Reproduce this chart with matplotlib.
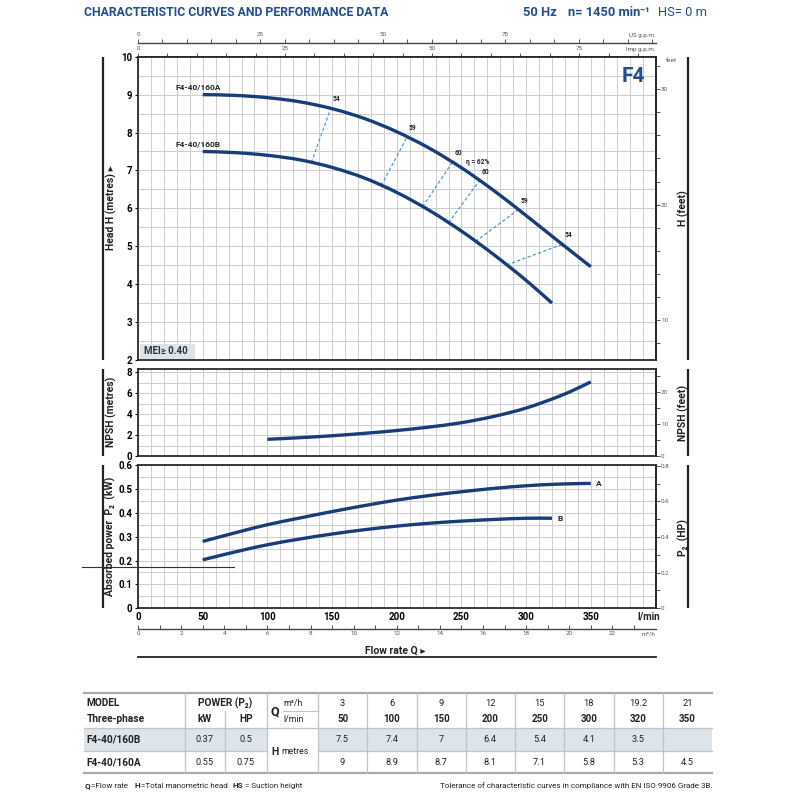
import numpy as np
import matplotlib
matplotlib.use('Agg')
import matplotlib.pyplot as plt
from matplotlib import font_manager
from matplotlib.patches import Rectangle, PathPatch
from matplotlib.path import Path
from matplotlib.ticker import MultipleLocator, FixedLocator

# ---------------- data ----------------
head_a_q = [50, 75, 100, 125, 150, 175, 200, 225, 250, 275, 300, 325, 350]
head_a_h = [9.00, 8.98, 8.92, 8.81, 8.63, 8.37, 8.02, 7.59, 7.07, 6.47, 5.81, 5.13, 4.46]
head_b_q = [50, 75, 100, 125, 150, 175, 200, 225, 250, 275, 300, 320]
head_b_h = [7.50, 7.47, 7.40, 7.28, 7.08, 6.80, 6.42, 5.95, 5.40, 4.78, 4.10, 3.50]

eff_labels = ['54', '59', '60', '60', '59', '54']
eff_q_on_a = [149, 208, 243, 264, 294, 328]
eff_q_on_b = [134, 188, 220, 240, 261, 285]
eta_max_q = 250
eta_max_label = '\u03b7 = 62%'

npsh_q = [100, 125, 150, 175, 200, 225, 250, 275, 300, 325, 340, 350]
npsh_h = [1.60, 1.75, 1.94, 2.17, 2.44, 2.77, 3.19, 3.79, 4.59, 5.69, 6.50, 7.10]

power_a_q = [50, 75, 100, 125, 150, 175, 200, 225, 250, 275, 300, 325, 350]
power_a_kw = [0.280, 0.316, 0.350, 0.378, 0.405, 0.430, 0.453, 0.472, 0.488, 0.502, 0.513, 0.520, 0.523]
power_b_q = [50, 75, 100, 125, 150, 175, 200, 225, 250, 275, 300, 320]
power_b_kw = [0.203, 0.236, 0.266, 0.290, 0.311, 0.329, 0.344, 0.356, 0.365, 0.372, 0.377, 0.377]

table_q_m3h = ['3', '6', '9', '12', '15', '18', '19.2', '21']
table_q_lmin = ['50', '100', '150', '200', '250', '300', '320', '350']
table_models = ['F4-40/160B', 'F4-40/160A']
table_kw = ['0.37', '0.55']
table_hp = ['0.5', '0.75']
table_h = [['7.5', '7.4', '7', '6.4', '5.4', '4.1', '3.5', ''],
           ['9', '8.9', '8.7', '8.1', '7.1', '5.8', '5.3', '4.5']]

# ---------------- fonts ----------------
avail = {f.name for f in font_manager.fontManager.ttflist}
def pick(*names):
    for n in names:
        if n in avail:
            return n
    return 'DejaVu Sans'
BASE = pick('Roboto', 'Lato', 'Open Sans', 'Liberation Sans')
NARROW = pick('Liberation Sans Narrow', 'Roboto', 'Lato')
FAM = [BASE, 'DejaVu Sans']
NFAM = [NARROW, 'DejaVu Sans']
plt.rcParams['font.family'] = FAM

NAVY = '#173d7a'
BLUE = '#1f4f8f'
DASH = '#3d8fd4'
GRID = '#cdcdcd'
FRAME = '#2a2a2a'
GRAY = '#555555'
SHADE = '#dde5ea'

W = H = 800
fig = plt.figure(figsize=(8, 8), dpi=100)

def rect(x0, y0, x1, y1):
    return [x0 / W, 1 - y1 / H, (x1 - x0) / W, (y1 - y0) / H]

def smooth_line(ax, xs, ys, **kw):
    """Draw a smooth curve passing through the given data points (Catmull-Rom as cubic Bezier)."""
    P = np.column_stack([xs, ys]).astype(float)
    n = len(P)
    verts = [P[0]]
    codes = [Path.MOVETO]
    for i in range(n - 1):
        p0 = P[i - 1] if i > 0 else P[i]
        p1 = P[i]
        p2 = P[i + 1]
        p3 = P[i + 2] if i + 2 < n else P[i + 1]
        verts += [p1 + (p2 - p0) / 6, p2 - (p3 - p1) / 6, p2]
        codes += [Path.CURVE4] * 3
    ax.add_patch(PathPatch(Path(verts, codes), fill=False, capstyle='butt', joinstyle='round', **kw))

X0, X1 = 138, 655.5
ax_h = fig.add_axes(rect(X0, 56.7, X1, 360))
ax_n = fig.add_axes(rect(X0, 369.3, X1, 456))
ax_p = fig.add_axes(rect(X0, 465, X1, 608.3))

for ax in (ax_h, ax_n, ax_p):
    ax.set_xlim(0, 400)
    ax.set_xticks(np.arange(0, 401, 10))
    ax.grid(True, which='both', color=GRID, lw=0.7)
    ax.set_axisbelow(True)
    for s in ax.spines.values():
        s.set_color(FRAME)
        s.set_linewidth(1.3)
    ax.tick_params(axis='x', length=0, labelbottom=False)
    ax.tick_params(axis='y', which='major', length=2, width=0.8, pad=2)
    ax.tick_params(axis='y', which='minor', length=0)

CURVE = dict(edgecolor=NAVY, lw=2.4, zorder=3)

# ---------- head ----------
ax_h.set_ylim(2, 10)
ax_h.set_yticks(range(2, 11), labels=[str(v) for v in range(2, 11)], fontweight='bold', fontsize=7)
ax_h.yaxis.set_minor_locator(MultipleLocator(0.5))
smooth_line(ax_h, head_a_q, head_a_h, **CURVE)
smooth_line(ax_h, head_b_q, head_b_h, **CURVE)
for lab, qa, qb in zip(eff_labels, eff_q_on_a, eff_q_on_b):
    ha_ = np.interp(qa, head_a_q, head_a_h)
    hb_ = np.interp(qb, head_b_q, head_b_h)
    ax_h.plot([qb, qa], [hb_, ha_], color=DASH, lw=0.8, ls=(0, (3, 2)), zorder=2.5)
    ax_h.annotate(lab, (qa, ha_), xytext=(2, 5), textcoords='offset pixels',
                  ha='left', va='bottom', fontsize=4.8, fontweight='bold', color='#222')
eh = np.interp(eta_max_q, head_a_q, head_a_h)
ax_h.annotate(eta_max_label, (eta_max_q, eh), xytext=(5, 2), textcoords='offset pixels',
              ha='left', va='bottom', fontsize=4.8, fontweight='bold', color='#222')
ax_h.annotate('F4-40/160A', (head_a_q[0], head_a_h[0]), xytext=(-5, 8), textcoords='offset pixels',
              ha='center', va='center', fontsize=6, fontweight='bold', color='#222')
ax_h.annotate('F4-40/160B', (head_b_q[0], head_b_h[0]), xytext=(-5, 7), textcoords='offset pixels',
              ha='center', va='center', fontsize=6, fontweight='bold', color='#222')

M2FT = 3.28084
sh = ax_h.secondary_yaxis('right', functions=(lambda m: m * M2FT, lambda f: f / M2FT))
sh.set_yticks([10, 20, 30], labels=['10', '20', '30'])
sh.yaxis.set_minor_locator(MultipleLocator(2))
sh.tick_params(which='both', direction='out', length=3, width=0.7, colors=GRAY, labelsize=4.5, pad=1)
sh.spines['right'].set_color(FRAME)
sh.spines['right'].set_linewidth(1.3)

imp = ax_h.secondary_xaxis('top', functions=(lambda q: q / 4.546, lambda g: g * 4.546))
imp.set_xticks([0, 25, 50, 75], labels=['0', '25', '50', '75'])
imp.xaxis.set_minor_locator(FixedLocator(np.arange(0, 88, 5)))
imp.tick_params(which='both', direction='out', length=3, width=0.7, colors=GRAY, labelsize=4.5, pad=1)
imp.spines['top'].set_color(FRAME)
imp.spines['top'].set_linewidth(1.3)

us = ax_h.secondary_xaxis(1 + 14 / 303.3, functions=(lambda q: q / 3.785, lambda g: g * 3.785))
us.set_xticks([0, 25, 50, 75], labels=['0', '25', '50', '75'])
us.xaxis.set_minor_locator(FixedLocator(np.arange(0, 106, 5)))
us.tick_params(which='both', direction='out', length=3, width=0.7, colors=GRAY, labelsize=4.5, pad=1)
us.spines['top'].set_color('#444')
us.spines['top'].set_linewidth(1.0)

# ---------- NPSH ----------
ax_n.set_ylim(0, 8.3)
ax_n.set_yticks([0, 2, 4, 6, 8], labels=['0', '2', '4', '6', '8'], fontweight='bold', fontsize=7)
ax_n.yaxis.set_minor_locator(MultipleLocator(1))
smooth_line(ax_n, npsh_q, npsh_h, **CURVE)
sn = ax_n.secondary_yaxis('right', functions=(lambda m: m * M2FT, lambda f: f / M2FT))
sn.set_yticks([0, 10, 20], labels=['0', '10', '20'])
sn.yaxis.set_minor_locator(MultipleLocator(5))
sn.tick_params(which='both', direction='out', length=3, width=0.7, colors=GRAY, labelsize=4.5, pad=1)
sn.spines['right'].set_color(FRAME)
sn.spines['right'].set_linewidth(1.3)

# ---------- power ----------
ax_p.set_ylim(0, 0.6)
pt = [0, 0.1, 0.2, 0.3, 0.4, 0.5, 0.6]
ax_p.set_yticks(pt, labels=['0' if v == 0 else f'{v:g}' for v in pt], fontweight='bold', fontsize=7)
ax_p.yaxis.set_minor_locator(MultipleLocator(0.05))
xt = np.arange(0, 401, 10)
ax_p.set_xticks(xt, labels=[str(v) if (v % 50 == 0 and v <= 350) else '' for v in xt],
                fontweight='bold', fontsize=7)
ax_p.tick_params(axis='x', labelbottom=True, length=0, pad=3)
smooth_line(ax_p, power_a_q, power_a_kw, **CURVE)
smooth_line(ax_p, power_b_q, power_b_kw, **CURVE)
ax_p.annotate('A', (power_a_q[-1], power_a_kw[-1]), xytext=(5, 0), textcoords='offset pixels',
              ha='left', va='center', fontsize=6, fontweight='bold', color='#222')
ax_p.annotate('B', (power_b_q[-1], power_b_kw[-1]), xytext=(5, 0), textcoords='offset pixels',
              ha='left', va='center', fontsize=6, fontweight='bold', color='#222')
KW2HP = 1 / 0.7457
sp = ax_p.secondary_yaxis('right', functions=(lambda k: k * KW2HP, lambda hp: hp / KW2HP))
hpt = [0, 0.2, 0.4, 0.6, 0.8]
sp.set_yticks(hpt, labels=['0' if v == 0 else f'{v:g}' for v in hpt])
sp.yaxis.set_minor_locator(MultipleLocator(0.1))
sp.tick_params(which='both', direction='out', length=3, width=0.7, colors=GRAY, labelsize=4.5, pad=1)
sp.spines['right'].set_color(FRAME)
sp.spines['right'].set_linewidth(1.3)

m3 = ax_p.secondary_xaxis(-(629 - 608.3) / 143.3, functions=(lambda q: q / 16.6667, lambda m: m * 16.6667))
m3.set_xticks(list(range(0, 23, 2)), labels=[str(v) for v in range(0, 23, 2)])
m3.xaxis.set_minor_locator(FixedLocator(np.arange(0, 24, 1)))
m3.tick_params(which='both', direction='in', length=3, width=0.7, colors=GRAY, labelsize=4.5, pad=1.5)
m3.spines['bottom'].set_color('#444')
m3.spines['bottom'].set_linewidth(1.0)

# ---------------- overlay (page layout) ----------------
ov = fig.add_axes([0, 0, 1, 1])
ov.set_xlim(0, W)
ov.set_ylim(H, 0)
ov.axis('off')
ov.set_zorder(10)
ov.patch.set_alpha(0)

ov.text(84, 12, 'CHARACTERISTIC CURVES AND PERFORMANCE DATA', family=NFAM, fontsize=8.8,
        fontweight='bold', color=BLUE, ha='left', va='center')
ov.text(523, 12, '50 Hz', family=NFAM, fontsize=9.3, fontweight='bold', color=BLUE, ha='left', va='center')
ov.text(568, 12, 'n= 1450 min\u207b\u00b9', family=NFAM, fontsize=9.3, fontweight='bold', color=BLUE,
        ha='left', va='center')
ov.text(658, 12, 'HS= 0 m', family=NFAM, fontsize=9.3, color=BLUE, ha='left', va='center')

for (ya, yb) in [(56.7, 360), (369.3, 456), (465, 608.3)]:
    ov.plot([103.3, 103.3], [ya, yb], color='#222', lw=1.6, solid_capstyle='butt')
    ov.plot([688, 688], [ya, yb], color='#222', lw=1.6, solid_capstyle='butt')

lab_kw = dict(rotation=90, ha='center', va='center', fontweight='bold', fontsize=7.5, color='#222')
ov.text(111.5, 208, 'Head H (metres) \u25b8', **lab_kw)
ov.text(111, 412, 'NPSH (metres)', **lab_kw)
ov.text(110.5, 536, 'Absorbed power  P\u2082  (kW)', **lab_kw)
ov.text(683, 208, 'H (feet)', **lab_kw)
ov.text(683, 413, 'NPSH (feet)', **lab_kw)
ov.text(683, 537, 'P\u2082  (HP)', **lab_kw)

ov.add_patch(Rectangle((140, 344), 55, 14.5, fc='#dde3ea', ec='none'))
ov.text(144, 351.3, 'MEI\u2265 0.40', ha='left', va='center', fontsize=7, fontweight='bold', color='#333')
ov.text(645, 77, 'F4', ha='right', va='center', fontsize=15, fontweight='bold', color=BLUE, family=NFAM)
ov.text(666, 60, 'feet', ha='left', va='center', fontsize=4.5, color=GRAY)
ov.text(656, 36, 'US g.p.m.', ha='right', va='center', fontsize=4.5, color=GRAY)
ov.text(656, 49.3, 'Imp g.p.m.', ha='right', va='center', fontsize=4.5, color=GRAY)
ov.text(649, 616.5, 'l/min', ha='center', va='center', fontsize=7, fontweight='bold', color='#222')
ov.text(648, 634.5, 'm\u00b3/h', ha='center', va='center', fontsize=4.5, color=GRAY)
ov.text(395, 650.5, 'Flow rate Q \u25b8', ha='center', va='center', fontsize=7.5, fontweight='bold', color='#222')
ov.plot([X0, X1], [656.7, 656.7], color='#222', lw=1.3)
ov.plot([82, 234], [567, 567], color='#333', lw=0.8)

# ---------------- table ----------------
tx0, tx1 = 84, 712
c_model, c_pow, c_hp, c_q = 185, 225, 266.7, 318
vcol = np.linspace(c_q, tx1, len(table_q_lmin) + 1)
vcen = (vcol[:-1] + vcol[1:]) / 2
y_top, y_r1, y_r2, y_hdr, y_mid, y_bot = 693.3, 703, 719.5, 727.7, 751, 773.3
yB, yA = 739.5, 762.2
LC = '#c3c3c3'
TC = '#222222'
ov.add_patch(Rectangle((tx0, y_hdr), c_hp - tx0, y_mid - y_hdr, fc=SHADE, ec='none'))
ov.add_patch(Rectangle((c_q, y_hdr), tx1 - c_q, y_mid - y_hdr, fc=SHADE, ec='none'))
ov.plot([tx0, tx1], [y_top, y_top], color='#aaaaaa', lw=1.6)
ov.plot([tx0, tx1], [y_hdr, y_hdr], color=LC, lw=0.9)
ov.plot([tx0, c_hp], [y_mid, y_mid], color=LC, lw=0.9)
ov.plot([c_q, tx1], [y_mid, y_mid], color=LC, lw=0.9)
ov.plot([tx0, tx1], [y_bot, y_bot], color='#aaaaaa', lw=1.6)
ov.plot([283, c_q], [711, 711], color=LC, lw=0.8)
for x in [c_model, c_hp] + list(vcol[:-1]):
    ov.plot([x, x], [y_top, y_bot], color=LC, lw=0.9)
ov.plot([c_pow, c_pow], [711, y_bot], color=LC, lw=0.9)

fs = 7.3
ov.text(86.7, y_r1, 'MODEL', ha='left', va='center', fontsize=fs, fontweight='bold', color=TC)
ov.text(86.7, y_r2, 'Three-phase', ha='left', va='center', fontsize=fs, fontweight='bold', color=TC)
ov.text(225, y_r1, 'POWER (P\u2082)', ha='center', va='center', fontsize=fs, fontweight='bold', color=TC)
ov.text(205, y_r2, 'kW', ha='center', va='center', fontsize=fs, fontweight='bold', color=TC)
ov.text(246, y_r2, 'HP', ha='center', va='center', fontsize=fs, fontweight='bold', color=TC)
ov.text(270.5, 711.5, 'Q', ha='left', va='center', fontsize=9, fontweight='bold', color=TC)
ov.text(283, y_r1, 'm\u00b3/h', ha='left', va='center', fontsize=6.3, color=TC)
ov.text(283, y_r2, 'l/min', ha='left', va='center', fontsize=6.3, color=TC)
ov.text(271, 752, 'H', ha='left', va='center', fontsize=7.5, fontweight='bold', color=TC)
ov.text(281.5, 752, 'metres', ha='left', va='center', fontsize=6.3, color=TC)
for xc, a, b in zip(vcen, table_q_m3h, table_q_lmin):
    ov.text(xc, y_r1, a, ha='center', va='center', fontsize=6.7, color=TC)
    ov.text(xc, y_r2, b, ha='center', va='center', fontsize=7, fontweight='bold', color=TC)
for yy, mdl, kw, hp, hv in zip([yB, yA], table_models, table_kw, table_hp, table_h):
    ov.text(86.7, yy, mdl, ha='left', va='center', fontsize=fs, fontweight='bold', color=TC)
    ov.text(205, yy, kw, ha='center', va='center', fontsize=6.7, color=TC)
    ov.text(246, yy, hp, ha='center', va='center', fontsize=6.7, color=TC)
    for xc, v in zip(vcen, hv):
        ov.text(xc, yy, v, ha='center', va='center', fontsize=6.7, color=TC)

# footnotes
renderer = fig.canvas.get_renderer()
parts = [('Q', True, 1), ('=Flow rate', False, 6), ('H', True, 1), ('=Total manometric head', False, 5),
         ('HS', True, 2), ('= Suction height', False, 0)]
xx = 84.6
for txt, bold, gap in parts:
    t = ov.text(xx, 786, txt, ha='left', va='center', fontsize=5.8,
                fontweight='bold' if bold else 'normal', color=TC)
    bb = t.get_window_extent(renderer=renderer)
    xx += bb.width + gap
ov.text(712, 786, 'Tolerance of characteristic curves in compliance with EN ISO 9906 Grade 3B.',
        ha='right', va='center', fontsize=5.8, color=TC)

fig.savefig('out.png', dpi=100)
